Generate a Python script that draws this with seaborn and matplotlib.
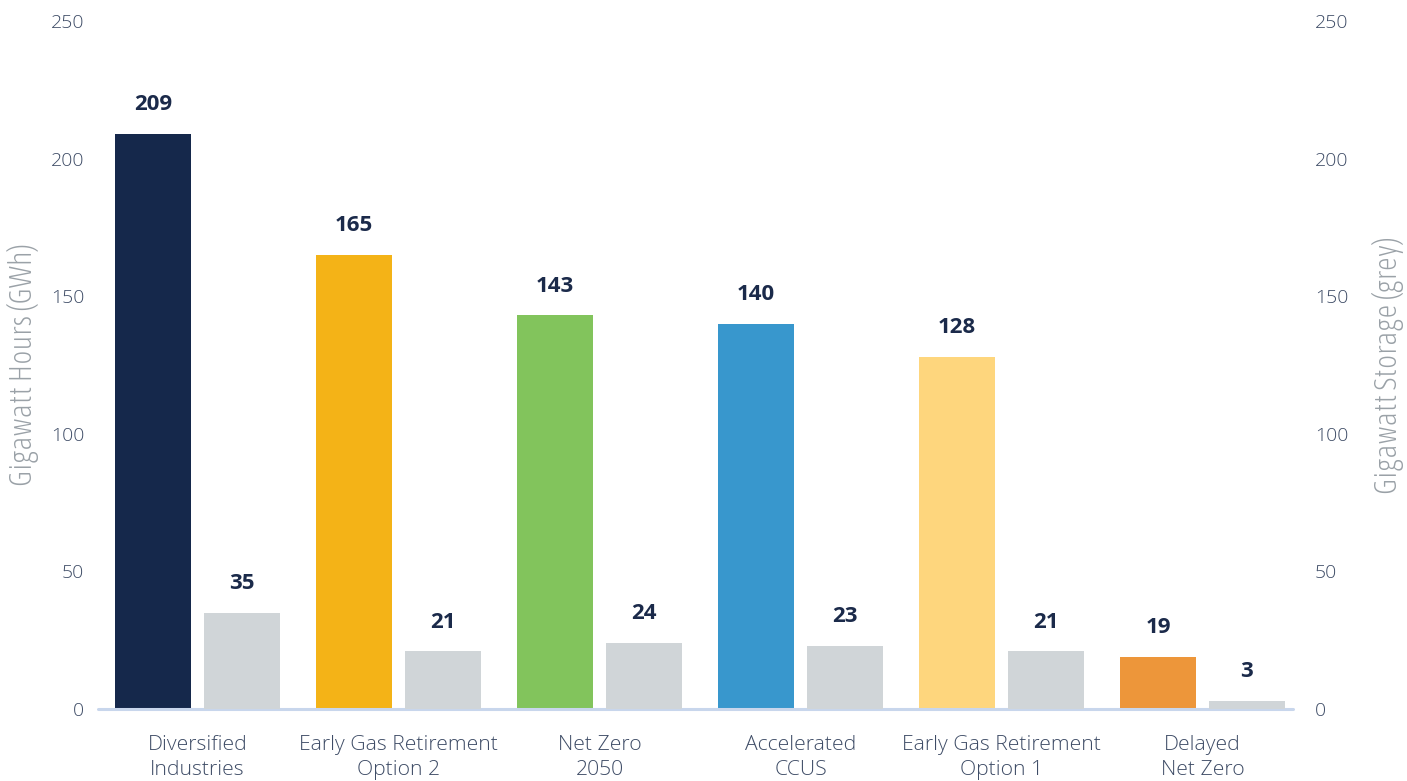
import numpy as np
import pandas as pd
import matplotlib
matplotlib.use("Agg")
import matplotlib.pyplot as plt
import seaborn as sns
from matplotlib import font_manager
from matplotlib.font_manager import FontProperties

categories = ["Diversified\nIndustries", "Early Gas Retirement\nOption 2", "Net Zero\n2050",
              "Accelerated\nCCUS", "Early Gas Retirement\nOption 1", "Delayed\nNet Zero"]
hours = [209, 165, 143, 140, 128, 19]
storage = [35, 21, 24, 23, 21, 3]
bar_colors = ["#15284b", "#f4b317", "#82c45c", "#3897cd", "#fed67d", "#ed963a"]
grey = "#d0d5d8"
yticks = [0, 50, 100, 150, 200, 250]

sns.set_theme(style="white")
plt.rcParams['font.family'] = ['Open Sans', 'DejaVu Sans']

tick_color = "#3e4c66"
label_color = "#9aa1a7"
num_color = "#1b2a4a"

# find a condensed light face for the axis titles, if installed
cond_path = None
for f in font_manager.fontManager.ttflist:
    fn = f.fname.lower()
    if ("cond" in fn or "condensed" in f.name.lower()) and ("light" in fn or f.weight in (300, "light")):
        if "italic" not in fn and f.style == "normal":
            cond_path = f.fname
            break

fig = plt.figure(figsize=(14.07, 7.81), dpi=100)
ax = fig.add_axes([98/1407, 1-709/781, (1292.7-98)/1407, (709-21)/781])
ax2 = ax.twinx()

off = 0.221
w = 0.378
idx = np.arange(len(categories))
df_h = pd.DataFrame({"pos": idx - off, "val": hours, "cat": categories})
df_s = pd.DataFrame({"pos": idx + off, "val": storage})

sns.barplot(data=df_h, x="pos", y="val", hue="cat", palette=bar_colors, native_scale=True,
            dodge=False, width=w, legend=False, saturation=1, ax=ax, errorbar=None, linewidth=0)
sns.barplot(data=df_s, x="pos", y="val", color=grey, native_scale=True,
            width=w, saturation=1, ax=ax2, errorbar=None, linewidth=0)

for a in (ax, ax2):
    a.set_ylim(0, 250)
    a.set_xlim(-0.495, 5.449)
    a.set_yticks(yticks)
    for s in a.spines.values():
        s.set_visible(False)
    a.grid(False)

for x, v in zip(idx - off, hours):
    ax.annotate(f"{v}", (x, v), xytext=(0, 21), textcoords="offset points",
                ha="center", va="center", fontsize=16, fontweight="bold", color=num_color)
for x, v in zip(idx + off, storage):
    ax2.annotate(f"{v}", (x, v), xytext=(0, 21), textcoords="offset points",
                 ha="center", va="center", fontsize=16, fontweight="bold", color=num_color)

ax.axhline(0, color="#c8d6ec", lw=2.2, zorder=5, clip_on=False)

ax.set_xticks(idx)
ax.set_xticklabels(categories, fontsize=15.2, color=tick_color, fontweight="light", linespacing=1.32)
ax.tick_params(axis="x", length=0, pad=19)
ax.tick_params(axis="y", length=0, pad=10, labelsize=14, labelcolor=tick_color)
ax2.tick_params(axis="y", length=0, pad=16, labelsize=14, labelcolor=tick_color)
for t in ax.get_yticklabels() + ax2.get_yticklabels():
    t.set_fontweight("light")

if cond_path:
    lab_kw = dict(color=label_color, fontproperties=FontProperties(fname=cond_path, size=22))
else:
    lab_kw = dict(color=label_color, fontsize=17, fontweight="light")
ax.set_xlabel("")
ax.set_ylabel("Gigawatt Hours (GWh)", labelpad=8, **lab_kw)
ax2.set_ylabel("Gigawatt Storage (grey)", labelpad=17, **lab_kw)
ax2.set_xlabel("")

fig.savefig("out.png", dpi=100)
